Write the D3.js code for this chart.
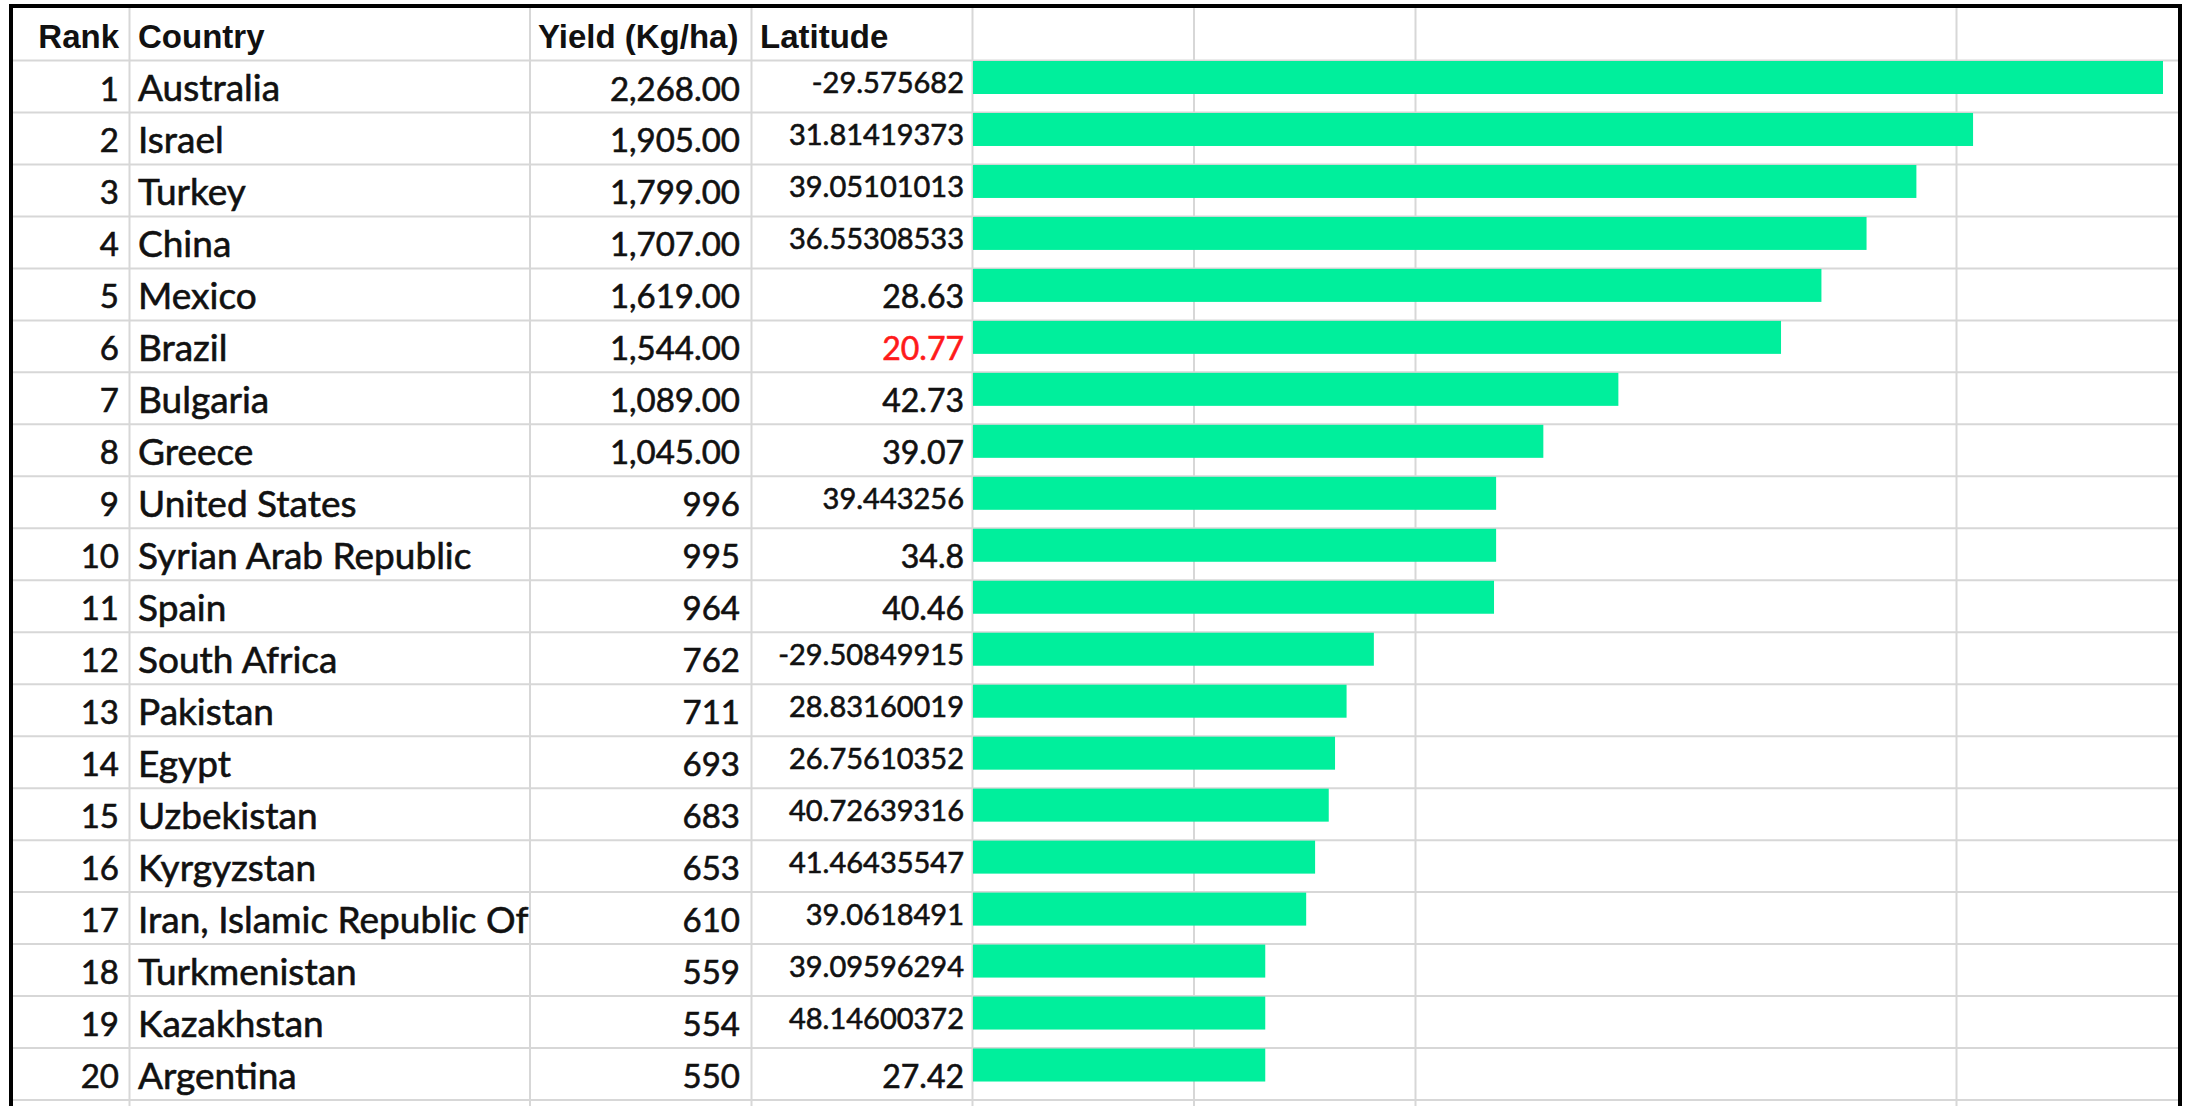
<!DOCTYPE html>
<html>
<head>
<meta charset="utf-8">
<script src="https://cdn.jsdelivr.net/npm/d3@7"></script>
<style>
  html, body { margin: 0; padding: 0; background: #fff; overflow: hidden; }
  svg { display: block; }
  .cell { font-family: Lato, "Open Sans", sans-serif; fill: #111; stroke: #111; stroke-width: 0.6px; }
  .head { font-family: "Liberation Sans", Arial, sans-serif; font-weight: bold; fill: #111; }
</style>
</head>
<body>
<script>

// sheet data, as shown in the picture
var headers = ["Rank", "Country", "Yield (Kg/ha)", "Latitude"];
var ranks = [1, 2, 3, 4, 5, 6, 7, 8, 9, 10, 11, 12, 13, 14, 15, 16, 17, 18, 19, 20];
var countries = ["Australia", "Israel", "Turkey", "China", "Mexico", "Brazil", "Bulgaria", "Greece",
  "United States", "Syrian Arab Republic", "Spain", "South Africa", "Pakistan", "Egypt", "Uzbekistan",
  "Kyrgyzstan", "Iran, Islamic Republic Of", "Turkmenistan", "Kazakhstan", "Argentina"];
var yieldLabels = ["2,268.00", "1,905.00", "1,799.00", "1,707.00", "1,619.00", "1,544.00", "1,089.00", "1,045.00",
  "996", "995", "964", "762", "711", "693", "683", "653", "610", "559", "554", "550"];
var latitudes = ["-29.575682", "31.81419373", "39.05101013", "36.55308533", "28.63", "20.77", "42.73", "39.07",
  "39.443256", "34.8", "40.46", "-29.50849915", "28.83160019", "26.75610352", "40.72639316", "41.46435547",
  "39.0618491", "39.09596294", "48.14600372", "27.42"];
// data bar lengths (Kg/ha)
var barValues = [2268, 1906, 1798, 1703, 1617, 1540, 1230, 1087, 997, 997, 993, 764, 712, 690, 678, 652, 635, 557, 557, 557];

var width = 2189, height = 1106;
var headTop = 6, headBottom = 60.5, tableBottom = 1100;
// sheet column edges
var colEdges = [11, 129.5, 530, 751.5, 972.5, 1194, 1415.5, 1956.5, 2180];

var svg = d3.select("body").append("svg")
    .attr("width", width)
    .attr("height", height);

var setYCordinate = d3.scaleBand()
    .domain(countries)
    .range([headBottom, tableBottom]);
var setXCordinate = d3.scaleLinear()
    .domain([0, d3.max(barValues)])
    .range([973, 2163]);

var rows = countries.map(function(c, i) {
  return {rank: ranks[i], country: c, yieldLabel: yieldLabels[i], lat: latitudes[i], bar: barValues[i]};
});

// horizontal grid lines
var lineYs = [headBottom].concat(countries.map(function(c) { return setYCordinate(c) + setYCordinate.bandwidth(); }));
svg.selectAll(".hline")
    .data(lineYs)
    .enter().append("line")
    .attr("x1", colEdges[0]).attr("x2", colEdges[colEdges.length - 1])
    .attr("y1", function(d) { return d; }).attr("y2", function(d) { return d; })
    .attr("stroke", "#d7d7d7").attr("stroke-width", 2);

// vertical grid lines
svg.selectAll(".vline")
    .data(colEdges.slice(1, -1))
    .enter().append("line")
    .attr("x1", function(d) { return d; }).attr("x2", function(d) { return d; })
    .attr("y1", headTop).attr("y2", height)
    .attr("stroke", "#d7d7d7").attr("stroke-width", 2);

// data bars
svg.selectAll(".bar")
    .data(rows)
    .enter().append("rect")
    .attr("class", "bar")
    .attr("x", setXCordinate(0))
    .attr("y", function(d) { return setYCordinate(d.country) + 0.5; })
    .attr("width", function(d) { return setXCordinate(d.bar) - setXCordinate(0); })
    .attr("height", 33)
    .attr("fill", "#00ef9c");

// header
var headPos = [{x: 119, anchor: "end"}, {x: 138, anchor: "start"}, {x: 538, anchor: "start"}, {x: 760, anchor: "start"}];
svg.selectAll(".head")
    .data(headers)
    .enter().append("text")
    .attr("class", "head")
    .attr("x", function(d, i) { return headPos[i].x; })
    .attr("y", 48)
    .attr("text-anchor", function(d, i) { return headPos[i].anchor; })
    .style("font-size", "33px")
    .text(function(d) { return d; });

svg.append("clipPath").attr("id", "countryClip")
  .append("rect")
    .attr("x", colEdges[1]).attr("y", 0)
    .attr("width", colEdges[2] - colEdges[1] - 1).attr("height", height);

var rowG = svg.selectAll(".row")
    .data(rows)
    .enter().append("g")
    .attr("transform", function(d) { return "translate(0," + setYCordinate(d.country) + ")"; });

rowG.append("text").attr("class", "cell")
    .attr("x", 119).attr("y", 40)
    .attr("text-anchor", "end")
    .style("font-size", "33px")
    .text(function(d) { return d.rank; });

rowG.append("text").attr("class", "cell")
    .attr("x", 138).attr("y", 40.5)
    .attr("clip-path", "url(#countryClip)")
    .style("font-size", "37px")
    .text(function(d) { return d.country; });

rowG.append("text").attr("class", "cell")
    .attr("x", 740).attr("y", 40)
    .attr("text-anchor", "end")
    .style("font-size", "33px")
    .text(function(d) { return d.yieldLabel; });

// long latitude values are shrunk to fit the cell
rowG.append("text").attr("class", "cell")
    .attr("x", 964)
    .attr("y", function(d) { return d.lat.length > 6 ? 32.5 : 40; })
    .attr("text-anchor", "end")
    .style("font-size", function(d) { return d.lat.length > 6 ? "29px" : "32px"; })
    .style("fill", function(d) { return d.country == "Brazil" ? "#ff1a1a" : null; })
    .style("stroke", function(d) { return d.country == "Brazil" ? "#ff1a1a" : null; })
    .text(function(d) { return d.lat; });

// outer frame
svg.append("path")
    .attr("d", "M" + colEdges[0] + "," + height + "V" + headTop + "H" + colEdges[colEdges.length - 1] + "V" + height)
    .attr("fill", "none")
    .attr("stroke", "#000")
    .attr("stroke-width", 4);

</script>
</body>
</html>
